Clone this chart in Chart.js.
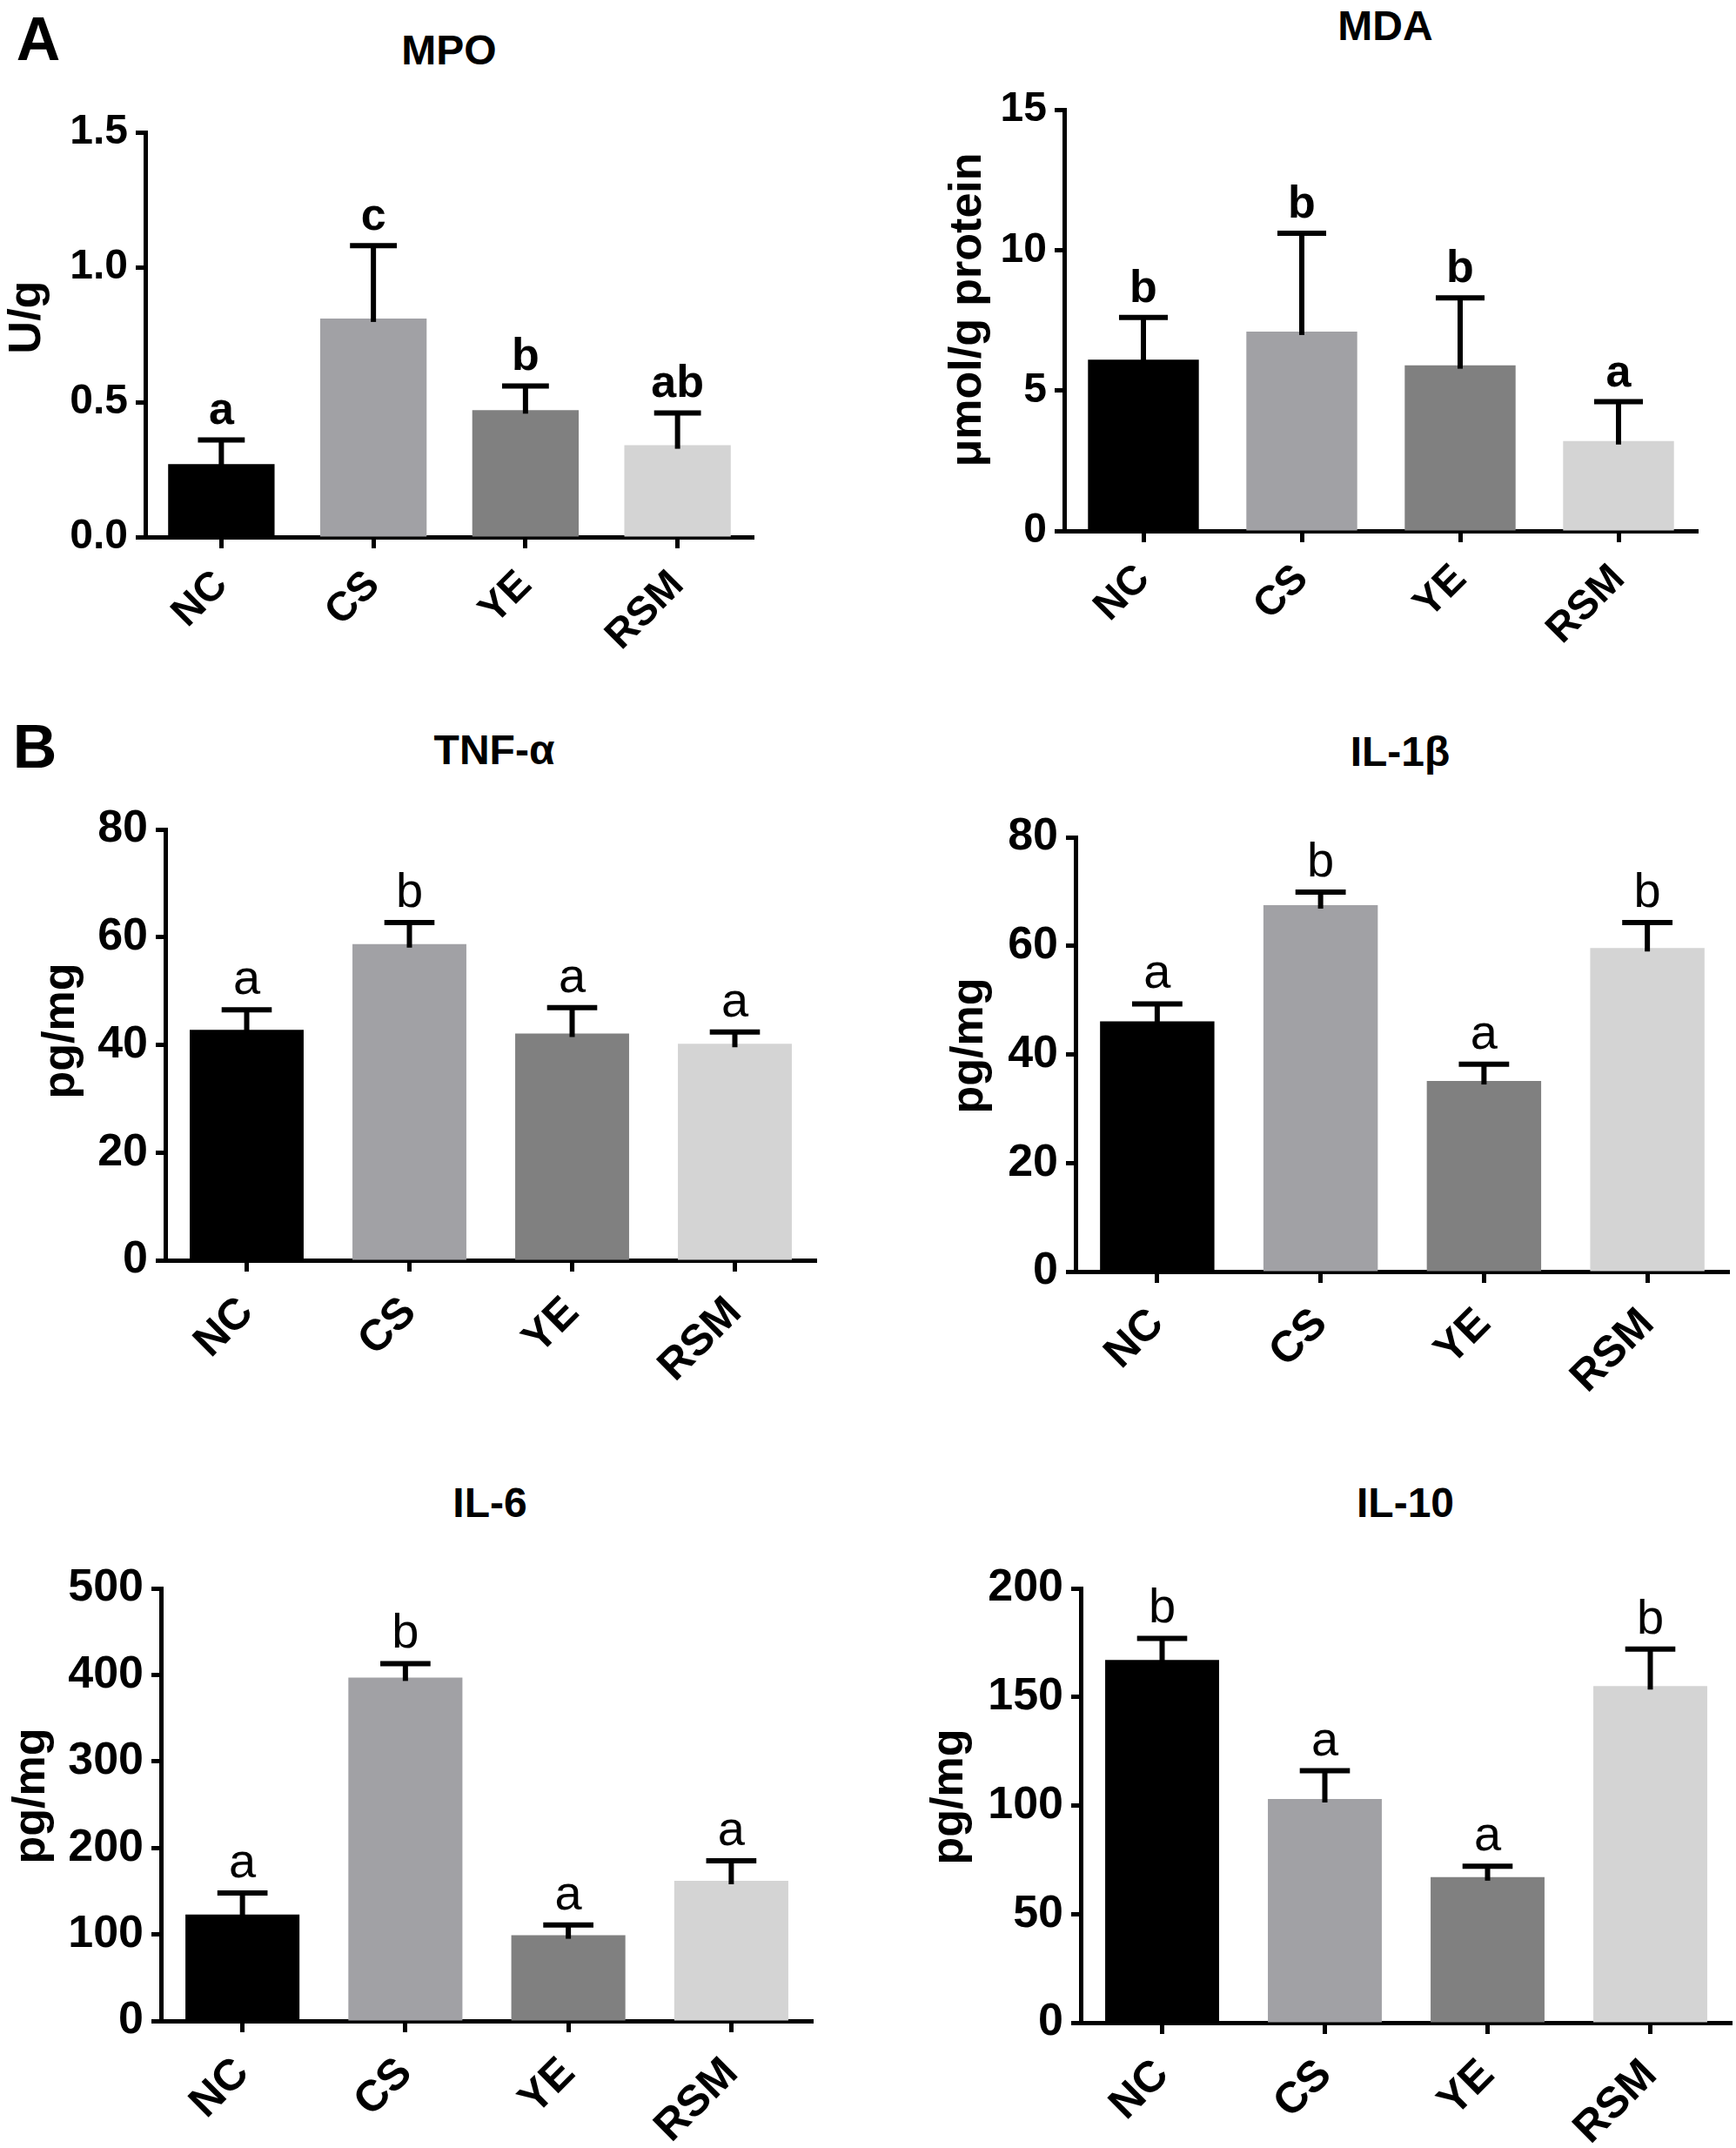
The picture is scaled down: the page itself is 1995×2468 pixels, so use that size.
<!DOCTYPE html>
<html><head><meta charset="utf-8">
<script src="https://cdn.jsdelivr.net/npm/chart.js@4.4.1/dist/chart.umd.min.js"></script>
<style>
html,body{margin:0;padding:0;background:#fff;}
body{width:1995px;height:2468px;position:relative;overflow:hidden;font-family:"Liberation Sans",Arial,sans-serif;}
.lbl{position:absolute;transform:translate(-50%,-50%);font-weight:bold;line-height:1;white-space:nowrap;color:#000;}
.cv{position:absolute;}
</style></head><body>
<script>
// ---------- data ----------
const categories = ['NC', 'CS', 'YE', 'RSM'];
const barColors = ['#000000', '#a1a1a5', '#808080', '#d4d4d4'];

const mpoMean = [0.27, 0.81, 0.47, 0.34];
const mpoErr = [0.09, 0.27, 0.09, 0.12];
const mpoLetters = ['a', 'c', 'b', 'ab'];
const mpoTicks = ['0.0', '0.5', '1.0', '1.5'];

const mdaMean = [6.1, 7.1, 5.9, 3.2];
const mdaErr = [1.5, 3.5, 2.4, 1.4];
const mdaLetters = ['b', 'b', 'b', 'a'];
const mdaTicks = ['0', '5', '10', '15'];

const tnfMean = [42.8, 58.7, 42.1, 40.2];
const tnfErr = [3.7, 4.0, 4.8, 2.2];
const tnfLetters = ['a', 'b', 'a', 'a'];
const tnfTicks = ['0', '20', '40', '60', '80'];

const il1Mean = [46.1, 67.5, 35.1, 59.6];
const il1Err = [3.2, 2.4, 3.1, 4.7];
const il1Letters = ['a', 'b', 'a', 'b'];
const il1Ticks = ['0', '20', '40', '60', '80'];

const il6Mean = [123, 397, 99, 162];
const il6Err = [25, 16, 12, 23];
const il6Letters = ['a', 'b', 'a', 'a'];
const il6Ticks = ['0', '100', '200', '300', '400', '500'];

const il10Mean = [167, 103, 67, 155];
const il10Err = [10, 13, 5, 17];
const il10Letters = ['b', 'a', 'a', 'b'];
const il10Ticks = ['0', '50', '100', '150', '200'];

// ---------- layout (page pixel positions) ----------
const FONT = '"Liberation Sans", Arial, sans-serif';
Chart.defaults.font.family = FONT;

const styleA = {tick: 48, xlab: 47, ytitle: 52, letter: 'bold 52px ', xpad: 15};
const styleB = {tick: 52, xlab: 50, ytitle: 52, letter: '56px ', xpad: 18};

const panels = [
  {title: 'MPO', yTitle: 'U/g', mean: mpoMean, err: mpoErr, letters: mpoLetters, ticks: mpoTicks, st: styleA,
   axisX: 167, right: 866, top: 152, base: 617, titleX: 516, titleY: 58, yTitleX: 32, yTitleShift: 20},
  {title: 'MDA', yTitle: 'μmol/g protein', mean: mdaMean, err: mdaErr, letters: mdaLetters, ticks: mdaTicks, st: styleA,
   axisX: 1223, right: 1951, top: 126, base: 610, titleX: 1592, titleY: 30, yTitleX: 1113, yTitleShift: 12},
  {title: 'TNF-α', yTitle: 'pg/mg', mean: tnfMean, err: tnfErr, letters: tnfLetters, ticks: tnfTicks, st: styleB,
   axisX: 190, right: 938, top: 953, base: 1448, titleX: 568, titleY: 862, yTitleX: 71, yTitleShift: 16},
  {title: 'IL-1β', yTitle: 'pg/mg', mean: il1Mean, err: il1Err, letters: il1Letters, ticks: il1Ticks, st: styleB,
   axisX: 1236, right: 1987, top: 962, base: 1461, titleX: 1609, titleY: 864, yTitleX: 1115, yTitleShift: 10},
  {title: 'IL-6', yTitle: 'pg/mg', mean: il6Mean, err: il6Err, letters: il6Letters, ticks: il6Ticks, st: styleB,
   axisX: 185, right: 934, top: 1825, base: 2322, titleX: 563, titleY: 1727, yTitleX: 37, yTitleShift: 10},
  {title: 'IL-10', yTitle: 'pg/mg', mean: il10Mean, err: il10Err, letters: il10Letters, ticks: il10Ticks, st: styleB,
   axisX: 1242, right: 1990, top: 1825, base: 2324, titleX: 1615, titleY: 1727, yTitleX: 1092, yTitleShift: 10}
];

function addLabel(text, x, y, size) {
  const d = document.createElement('div');
  d.className = 'lbl';
  d.textContent = text;
  d.style.left = x + 'px';
  d.style.top = y + 'px';
  d.style.fontSize = size + 'px';
  document.body.appendChild(d);
}
addLabel('A', 44, 45, 70);
addLabel('B', 40, 858, 70);

const errPlugin = {
  id: 'errbars',
  afterDatasetsDraw(chart, args, o) {
    const ctx = chart.ctx;
    const meta = chart.getDatasetMeta(0);
    const ys = chart.scales.y;
    const vals = chart.data.datasets[0].data;
    ctx.save();
    meta.data.forEach((bar, i) => {
      const yTop = ys.getPixelForValue(vals[i] + o.err[i]);
      const half = bar.width * 0.22;
      ctx.strokeStyle = '#000';
      ctx.lineWidth = 6;
      ctx.lineCap = 'butt';
      ctx.beginPath();
      ctx.moveTo(bar.x, bar.y + 4);
      ctx.lineTo(bar.x, yTop);
      ctx.stroke();
      ctx.beginPath();
      ctx.moveTo(bar.x - half, yTop);
      ctx.lineTo(bar.x + half, yTop);
      ctx.stroke();
      ctx.fillStyle = '#000';
      ctx.font = o.font + FONT;
      ctx.textAlign = 'center';
      ctx.textBaseline = 'alphabetic';
      ctx.fillText(o.letters[i], bar.x, yTop - 18);
    });
    ctx.restore();
  },
  afterDraw(chart, args, o) {
    // rotated y-axis title
    const ctx = chart.ctx;
    const a = chart.chartArea;
    ctx.save();
    ctx.translate(o.yTitleX, (a.top + a.bottom) / 2 - o.yTitleShift);
    ctx.rotate(-Math.PI / 2);
    ctx.fillStyle = '#000';
    ctx.font = 'bold ' + o.yTitleSize + 'px ' + FONT;
    ctx.textAlign = 'center';
    ctx.textBaseline = 'middle';
    ctx.fillText(o.yTitle, 0, 0);
    ctx.restore();
  }
};

panels.forEach(p => {
  addLabel(p.title, p.titleX, p.titleY, 48);
  const PADTOP = 50, PADRIGHT = 14, XH = 175;
  const L = Math.round(p.yTitleX - 36);
  const T = p.top - PADTOP;
  const W = p.right + PADRIGHT - L;
  const H = p.base + XH - T;
  const wrap = document.createElement('div');
  wrap.className = 'cv';
  wrap.style.left = L + 'px';
  wrap.style.top = T + 'px';
  wrap.style.width = W + 'px';
  wrap.style.height = H + 'px';
  const c = document.createElement('canvas');
  wrap.appendChild(c);
  document.body.appendChild(wrap);
  const tv = p.ticks.map(Number);
  const dec = (p.ticks[0].split('.')[1] || '').length;
  new Chart(c, {
    type: 'bar',
    data: {
      labels: categories,
      datasets: [{data: p.mean, backgroundColor: barColors, borderWidth: 0,
                  barPercentage: 0.70, categoryPercentage: 1.0}]
    },
    options: {
      responsive: true, maintainAspectRatio: false, animation: false, devicePixelRatio: 1,
      layout: {padding: {left: 0, top: PADTOP, right: PADRIGHT, bottom: 0}},
      plugins: {
        legend: {display: false}, tooltip: {enabled: false}, title: {display: false},
        errbars: {err: p.err, letters: p.letters, font: p.st.letter,
                  yTitle: p.yTitle, yTitleX: p.yTitleX - L, yTitleShift: p.yTitleShift, yTitleSize: p.st.ytitle}
      },
      scales: {
        x: {
          z: 1, offset: true,
          grid: {offset: false, drawOnChartArea: false, drawTicks: true, tickLength: 13, tickWidth: 5, tickColor: '#000'},
          border: {display: true, color: '#000', width: 5},
          ticks: {color: '#000', font: {size: p.st.xlab, weight: 'bold'}, minRotation: 45, maxRotation: 45, padding: p.st.xpad, autoSkip: false},
          afterFit: s => { s.height = XH; }
        },
        y: {
          z: 1, min: tv[0], max: tv[tv.length - 1],
          ticks: {stepSize: tv[1] - tv[0], color: '#000', font: {size: p.st.tick, weight: 'bold'}, padding: 9,
                  callback: v => Number(v).toFixed(dec)},
          grid: {drawOnChartArea: false, drawTicks: true, tickLength: 11, tickWidth: 5, tickColor: '#000'},
          border: {display: true, color: '#000', width: 5},
          title: {display: false},
          afterFit: s => { s.width = p.axisX - L; }
        }
      }
    },
    plugins: [errPlugin]
  });
});
</script>
</body></html>
